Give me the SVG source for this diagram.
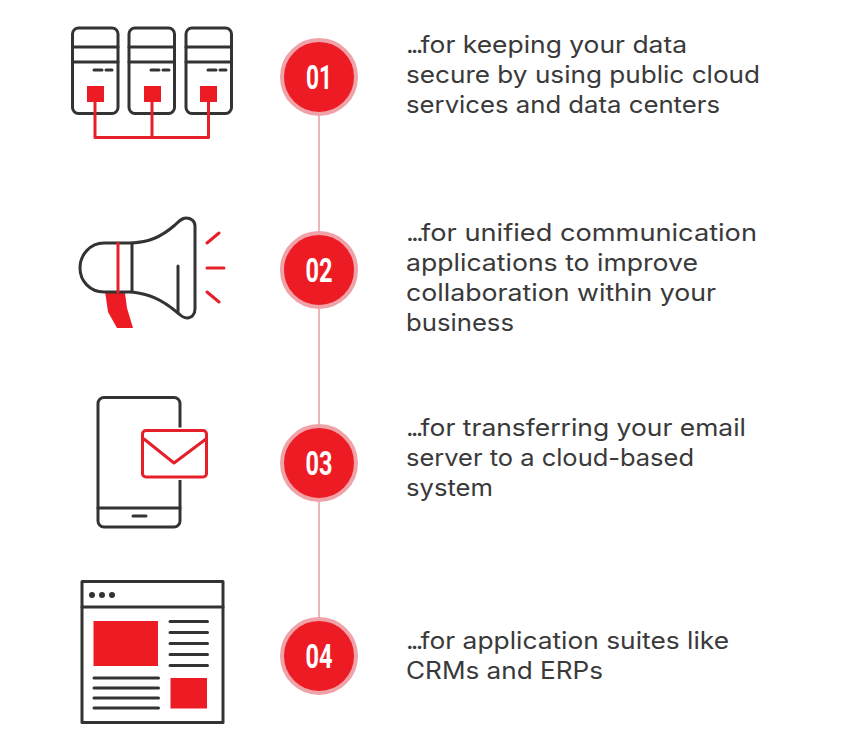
<svg xmlns="http://www.w3.org/2000/svg" width="848" height="754" viewBox="0 0 848 754">
<style>
.k{fill:none;stroke:#333;stroke-width:3;stroke-linecap:round;stroke-linejoin:round}
.r{fill:none;stroke:#e5202b;stroke-width:3;stroke-linecap:round;stroke-linejoin:round}
.f{fill:#ed1c24}
.ring{fill:#ed1c24;stroke:#efa3a8;stroke-width:4}
.n{font-family:"Roboto","Liberation Sans",sans-serif;font-weight:700;font-size:34px;fill:#fff;text-anchor:middle}
.t{font-family:"Inter","Open Sans",sans-serif;font-size:24px;fill:#3a3a3a}
.e{letter-spacing:-2.5px}
</style>
<rect width="848" height="754" fill="#fff"/>
<g id="connectors"><path d="M319 77V656" stroke="#eeb4b8" stroke-width="2" fill="none"/></g>
<g id="node-1">
<g id="servers">
<rect class="k" x="72.500" y="28" width="45.500" height="85.500" rx="6"/><path class="k" d="M72.500 47H118M72.500 62H118M94 70H102M106 70H112"/><rect class="f" x="87" y="86" width="17" height="16"/>
<rect class="k" x="129" y="28" width="45.500" height="85.500" rx="6"/><path class="k" d="M129 47H174.500M129 62H174.500M151 70H159M163 70H169"/><rect class="f" x="144" y="86" width="17" height="16"/>
<rect class="k" x="186" y="28" width="45.500" height="85.500" rx="6"/><path class="k" d="M186 47H231.500M186 62H231.500M208 70H216M220 70H226"/><rect class="f" x="200" y="86" width="17" height="16"/>
<path class="r" d="M95 102V137.500H208.500V102M152 102V137.500"/>
</g>
<circle class="ring" cx="319" cy="77" r="37"/>
<text class="n" x="319" y="89" textLength="26" lengthAdjust="spacingAndGlyphs">01</text>
<text class="t" x="406" y="53" textLength="281" lengthAdjust="spacingAndGlyphs"><tspan class="e">...</tspan>for keeping your data</text>
<text class="t" x="406" y="83" textLength="354" lengthAdjust="spacingAndGlyphs">secure by using public cloud</text>
<text class="t" x="406" y="113" textLength="314" lengthAdjust="spacingAndGlyphs">services and data centers</text>
</g>
<g id="node-2">
<g id="megaphone">
<path class="f" d="M105 291L125 293L127 308L133 328H117L108 312Z"/>
<path class="k" d="M132 243H104C90 243 80 255 80 268C80 281 90 292 104 292H132C148 294 160 298 178 313C182 317 184 318 187 318C192 318 195 314 195 309V226C195 221 191 218 186 218C182 218 179 221 175 225C160 238 148 242 132 243Z"/>
<path class="k" d="M132 243V292M178 266V313"/>
<path class="r" d="M118 243V292M207 243L219 233M207 268H224M207 292L219 302"/>
</g>
<circle class="ring" cx="319" cy="270" r="37"/>
<text class="n" x="319" y="282" textLength="27" lengthAdjust="spacingAndGlyphs">02</text>
<text class="t" x="406" y="241" textLength="351" lengthAdjust="spacingAndGlyphs"><tspan class="e">...</tspan>for unified communication</text>
<text class="t" x="406" y="271" textLength="292" lengthAdjust="spacingAndGlyphs">applications to improve</text>
<text class="t" x="406" y="301" textLength="310" lengthAdjust="spacingAndGlyphs">collaboration within your</text>
<text class="t" x="406" y="331" textLength="108" lengthAdjust="spacingAndGlyphs">business</text>
</g>
<g id="node-3">
<g id="phone">
<rect class="k" x="98" y="397.500" width="82" height="129.500" rx="6"/>
<path class="k" d="M98 508H180M133 516H146"/>
<rect x="142" y="430.500" width="65" height="46.500" rx="3" fill="#fff" stroke="#fff" stroke-width="6"/>
<rect class="r" x="142.500" y="430.500" width="64" height="46.500" rx="3.500"/>
<path class="r" d="M144 439L174 463L206 439"/>
</g>
<circle class="ring" cx="319" cy="463" r="37"/>
<text class="n" x="319" y="475" textLength="27" lengthAdjust="spacingAndGlyphs">03</text>
<text class="t" x="406" y="436" textLength="340" lengthAdjust="spacingAndGlyphs"><tspan class="e">...</tspan>for transferring your email</text>
<text class="t" x="406" y="466" textLength="288" lengthAdjust="spacingAndGlyphs">server to a cloud-based</text>
<text class="t" x="406" y="496" textLength="87" lengthAdjust="spacingAndGlyphs">system</text>
</g>
<g id="node-4">
<g id="window">
<rect class="k" x="82" y="581.500" width="141" height="141"/>
<path class="k" d="M82 607H223M170 621.500H207.500M170 632.500H207.500M170 643.500H207.500M170 654.500H207.500M170 665.500H207.500M94 678H158.500M94 688H158.500M94 698H158.500M94 708H158.500"/>
<circle cx="92" cy="595" r="3" fill="#333"/><circle cx="102" cy="595" r="3" fill="#333"/><circle cx="112" cy="595" r="3" fill="#333"/>
<rect class="f" x="93.500" y="621" width="64.500" height="45"/>
<rect class="f" x="170.500" y="678" width="36.500" height="30.500"/>
</g>
<circle class="ring" cx="319" cy="656" r="37"/>
<text class="n" x="319" y="668" textLength="27" lengthAdjust="spacingAndGlyphs">04</text>
<text class="t" x="406" y="649" textLength="323" lengthAdjust="spacingAndGlyphs"><tspan class="e">...</tspan>for application suites like</text>
<text class="t" x="406" y="679" textLength="197" lengthAdjust="spacingAndGlyphs">CRMs and ERPs</text>
</g>
</svg>
